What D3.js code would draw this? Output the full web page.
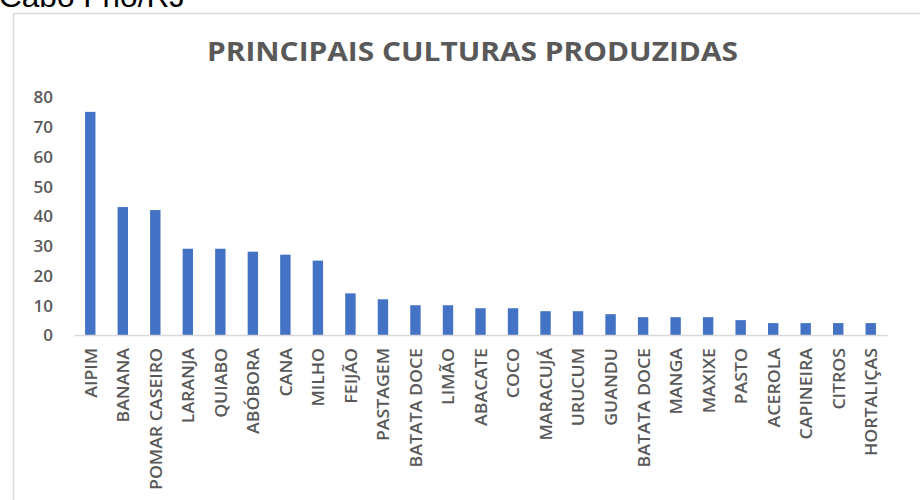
<!DOCTYPE html>
<html>
<head>
<meta charset="utf-8">
<script src="https://cdn.jsdelivr.net/npm/d3@7"></script>
<style>
  html, body { margin: 0; padding: 0; background: #fff; }
  svg { display: block; }
</style>
</head>
<body>
<svg id="chart" width="920" height="500"></svg>
<script>
const categories = ["AIPIM","BANANA","POMAR CASEIRO","LARANJA","QUIABO","ABÓBORA","CANA","MILHO","FEIJÃO","PASTAGEM","BATATA DOCE","LIMÃO","ABACATE","COCO","MARACUJÁ","URUCUM","GUANDU","BATATA DOCE","MANGA","MAXIXE","PASTO","ACEROLA","CAPINEIRA","CITROS","HORTALIÇAS"];
const values = [75,43,42,29,29,28,27,25,14,12,10,10,9,9,8,8,7,6,6,6,5,4,4,4,4];
const yTicks = [0,10,20,30,40,50,60,70,80];
const titleText = "PRINCIPAIS CULTURAS PRODUZIDAS";
const headerText = "Cabo Frio/RJ";

const svg = d3.select("#chart");
const FONT = "'Open Sans', 'DejaVu Sans', sans-serif";
const GRAY = "#595959";

// clipped header text from the page above the chart
svg.append("text")
  .attr("x", -1).attr("y", 7)
  .attr("font-family", "'Liberation Sans', Arial, sans-serif")
  .attr("font-size", 30)
  .attr("fill", "#000")
  .attr("textLength", 186)
  .attr("lengthAdjust", "spacingAndGlyphs")
  .text(headerText);

// chart frame
svg.append("rect")
  .attr("x", 13.5).attr("y", 13.5)
  .attr("width", 930).attr("height", 520)
  .attr("fill", "none")
  .attr("stroke", "#d9d9d9")
  .attr("stroke-width", 1.5);

// title
svg.append("text")
  .attr("x", 207).attr("y", 61)
  .attr("font-family", FONT)
  .attr("font-weight", 700)
  .attr("font-size", 27)
  .attr("fill", GRAY)
  .attr("textLength", 531)
  .attr("lengthAdjust", "spacingAndGlyphs")
  .text(titleText);

const x = d3.scaleBand()
  .domain(d3.range(categories.length))
  .range([74, 887])
  .paddingInner(0.68)
  .paddingOuter(0.34);

const y = d3.scaleLinear().domain([0, 80]).range([335, 97]);

// bars
svg.append("g").selectAll("rect")
  .data(values)
  .join("rect")
  .attr("x", (d, i) => x(i))
  .attr("y", d => y(d))
  .attr("width", x.bandwidth())
  .attr("height", d => y(0) - y(d))
  .attr("fill", "#4472C4");

// y axis labels
const yAxis = svg.append("g")
  .attr("transform", "translate(53,0)")
  .call(d3.axisLeft(y).tickValues(yTicks).tickSize(0).tickPadding(0));
yAxis.select(".domain").remove();
yAxis.selectAll("text")
  .attr("font-family", FONT)
  .attr("font-weight", 600)
  .attr("font-size", 17)
  .attr("fill", GRAY)
  .attr("dy", "0.35em");

// x axis
const xAxis = svg.append("g")
  .attr("transform", "translate(0,335)")
  .call(d3.axisBottom(x).tickFormat(i => categories[i]).tickSize(0).tickSizeOuter(0));
xAxis.select(".domain")
  .attr("stroke", "#d9d9d9")
  .attr("stroke-width", 1.5);
const labels = xAxis.selectAll("text")
  .attr("font-family", FONT)
  .attr("font-weight", 600)
  .attr("font-size", 16)
  .attr("fill", GRAY)
  .attr("text-anchor", "end")
  .attr("y", 0)
  .attr("x", -13)
  .attr("dy", "0.4em")
  .attr("transform", "rotate(-90)");

// scale label lengths so "POMAR CASEIRO" spans about 142px like the reference
let refLen = 0;
labels.each(function(d, i) { if (i === 2) refLen = this.getComputedTextLength(); });
const k = refLen ? 142 / refLen : 1;
labels.each(function() {
  const len = this.getComputedTextLength();
  d3.select(this).attr("textLength", len * k).attr("lengthAdjust", "spacingAndGlyphs");
});
</script>
</body>
</html>
